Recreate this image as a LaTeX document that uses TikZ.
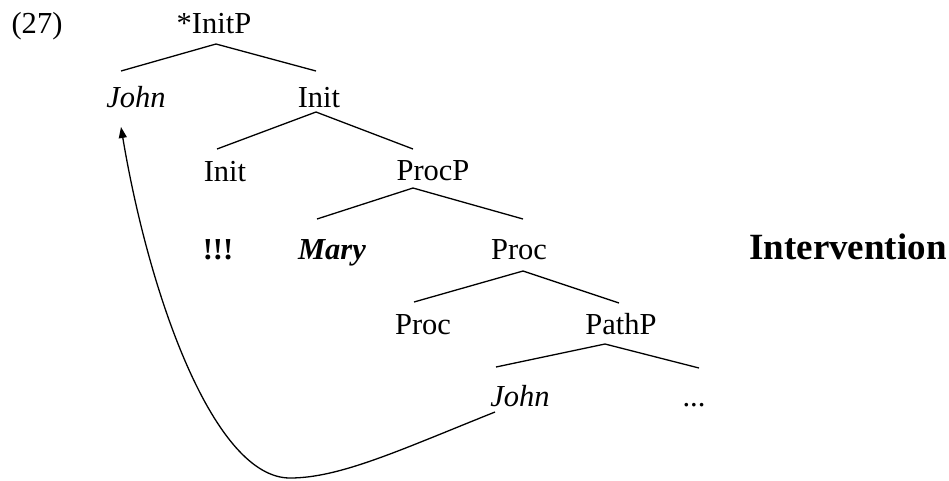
\documentclass[tikz,border=0pt]{standalone}
\usepackage{fontspec}
\setmainfont{Liberation Serif}
\usetikzlibrary{arrows.meta}
\begin{document}
\begin{tikzpicture}[x=1pt,y=-1pt,
  lbl/.style={anchor=base,inner sep=0pt,font=\fontsize{30.5}{36}\selectfont},
  big/.style={anchor=base,inner sep=0pt,font=\fontsize{37}{44}\selectfont\bfseries},
  branch/.style={line width=1.3pt},
  mvarrow/.style={line width=1.3pt,-{Triangle[length=11pt,width=8pt]}}]
\useasboundingbox (0,0) rectangle (949,480);
% nodes
\node[lbl] (n27) at (37,33) {(27)};
\node[lbl] (initP) at (214,33) {*InitP};
\node[lbl] (john1) at (136,107) {\textit{John}};
\node[lbl] (init1) at (319,107) {Init};
\node[lbl] (init2) at (225,181) {Init};
\node[lbl] (procP) at (433,180) {ProcP};
\node[lbl] (excl) at (218,259) {\textbf{!!!}};
\node[lbl] (mary) at (332,259) {\textbf{\textit{Mary}}};
\node[lbl] (proc1) at (519,259) {Proc};
\node[big] (interv) at (848,259) {Intervention};
\node[lbl] (proc2) at (423,334) {Proc};
\node[lbl] (pathP) at (621,334) {PathP};
\node[lbl] (john2) at (520,406) {\textit{John}};
\node[lbl] (dots) at (694,406) {...};
% branches
\draw[branch] ([shift={(-15,-36)}]john1.base) -- ([shift={(2,11)}]initP.base) -- ([shift={(-3,-36)}]init1.base);
\draw[branch] ([shift={(-8,-32)}]init2.base) -- ([shift={(-3,5)}]init1.base) -- ([shift={(-20,-31)}]procP.base);
\draw[branch] ([shift={(-15,-40)}]mary.base) -- ([shift={(-20,8)}]procP.base) -- ([shift={(4,-40)}]proc1.base);
\draw[branch] ([shift={(-9,-32)}]proc2.base) -- ([shift={(4,12)}]proc1.base) -- ([shift={(-2,-31)}]pathP.base);
\draw[branch] ([shift={(-24,-39)}]john2.base) -- ([shift={(-16,10)}]pathP.base) -- ([shift={(5,-38)}]dots.base);
% movement arrow
\draw[mvarrow] ([shift={(-25,6)}]john2.base) .. controls (400,450) and (340,478) .. (290,478)
  .. controls (215,478) and (150,300) .. ([shift={(-15,20)}]john1.base);
\end{tikzpicture}
\end{document}
